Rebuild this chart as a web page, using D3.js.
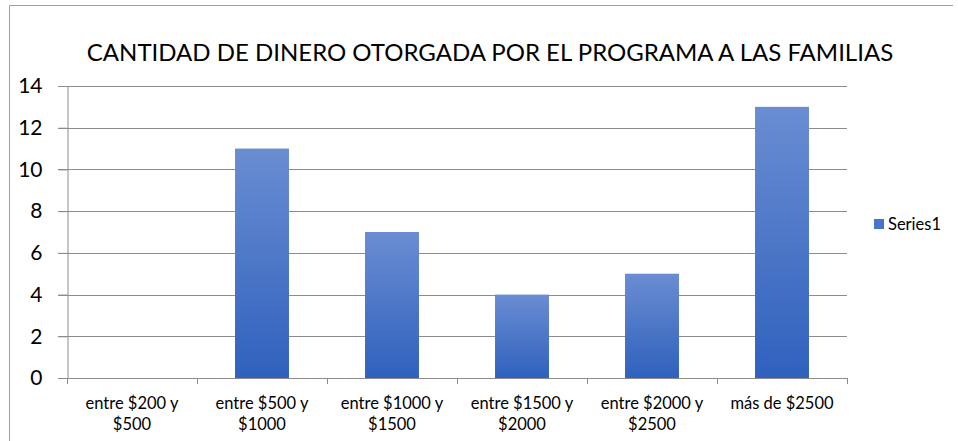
<!DOCTYPE html>
<html>
<head>
<meta charset="utf-8">
<script src="https://cdn.jsdelivr.net/npm/d3@7"></script>
<style>
  body { margin: 0; background: #fff; }
  svg { display: block; font-family: Lato, "Open Sans", sans-serif; }
</style>
</head>
<body>
<div id="chart"></div>
<script>
// Data
const categories = [
    ["entre $200 y", "$500"],
    ["entre $500 y", "$1000"],
    ["entre $1000 y", "$1500"],
    ["entre $1500 y", "$2000"],
    ["entre $2000 y", "$2500"],
    ["más de $2500"]
];
const values = [0, 11, 7, 4, 5, 13];
const yTicks = [0, 2, 4, 6, 8, 10, 12, 14];
const seriesName = "Series1";
const title = "CANTIDAD DE DINERO OTORGADA POR EL PROGRAMA A LAS FAMILIAS";

const width = 958, height = 441;
const plot = { left: 67, right: 847, top: 86, bottom: 378 };

const svg = d3.select("#chart").append("svg")
    .attr("width", width)
    .attr("height", height);

// gradient for bars
const grad = svg.append("defs").append("linearGradient")
    .attr("id", "barGrad")
    .attr("x1", 0).attr("y1", 0).attr("x2", 0).attr("y2", 1);
grad.append("stop").attr("offset", "0%").attr("stop-color", "#6a8dd2");
grad.append("stop").attr("offset", "100%").attr("stop-color", "#2f61bd");

// chart frame (left + top edges visible)
svg.append("path")
    .attr("d", `M9.5,441 V5.5 H953`)
    .attr("fill", "none")
    .attr("stroke", "#a0a0a0")
    .attr("stroke-width", 1);

// title
svg.append("text")
    .attr("x", 490)
    .attr("y", 61)
    .attr("text-anchor", "middle")
    .attr("font-size", 24)
    .attr("fill", "#000")
    .text(title);

const x = d3.scaleBand()
    .domain(d3.range(categories.length))
    .range([plot.left, plot.right])
    .paddingInner(0.585)
    .paddingOuter(0.2925);

const y = d3.scaleLinear()
    .domain([0, 14])
    .range([plot.bottom, plot.top]);

// gridlines
svg.append("g")
    .selectAll("line")
    .data(yTicks.filter(d => d > 0))
    .enter().append("line")
    .attr("x1", plot.left - 9).attr("x2", plot.right)
    .attr("y1", d => Math.round(y(d)) + 0.5)
    .attr("y2", d => Math.round(y(d)) + 0.5)
    .attr("stroke", "#8c8c8c");

// y axis
const yAxis = svg.append("g")
    .attr("transform", `translate(${plot.left + 0.5},0)`)
    .call(d3.axisLeft(y).tickValues(yTicks).tickSize(9).tickPadding(16).tickFormat(d3.format("d")));
yAxis.select(".domain").attr("stroke", "#8c8c8c");
yAxis.selectAll(".tick line").attr("stroke", "#8c8c8c");
yAxis.selectAll("text").attr("font-size", 21).attr("fill", "#000")
    .attr("font-family", "Lato, 'Open Sans', sans-serif");

// bars
svg.append("g")
    .selectAll("rect")
    .data(values)
    .enter().append("rect")
    .attr("x", (d, i) => x(i))
    .attr("width", x.bandwidth())
    .attr("y", d => y(d))
    .attr("height", d => y(0) - y(d))
    .attr("fill", "url(#barGrad)");

// x axis line and ticks at category boundaries
const step = x.step();
const xAxis = svg.append("g");
xAxis.append("line")
    .attr("x1", plot.left - 9).attr("x2", plot.right)
    .attr("y1", plot.bottom + 0.5).attr("y2", plot.bottom + 0.5)
    .attr("stroke", "#8c8c8c");
xAxis.selectAll(".xt")
    .data(d3.range(categories.length + 1))
    .enter().append("line")
    .attr("x1", i => Math.round(plot.left + i * step) + 0.5)
    .attr("x2", i => Math.round(plot.left + i * step) + 0.5)
    .attr("y1", plot.bottom)
    .attr("y2", plot.bottom + 6)
    .attr("stroke", "#8c8c8c");

// category labels
const labels = xAxis.selectAll(".lbl")
    .data(categories)
    .enter().append("text")
    .attr("text-anchor", "middle")
    .attr("font-size", 16.5)
    .attr("fill", "#000");
labels.each(function (lines, i) {
    const cx = x(i) + x.bandwidth() / 2;
    d3.select(this).selectAll("tspan")
        .data(lines)
        .enter().append("tspan")
        .attr("x", cx)
        .attr("y", (d, j) => 409 + j * 21)
        .text(d => d);
});

// legend
svg.append("rect")
    .attr("x", 874).attr("y", 219)
    .attr("width", 10).attr("height", 10)
    .attr("fill", "#4a74c9");
svg.append("text")
    .attr("x", 888).attr("y", 230)
    .attr("font-size", 16.5)
    .attr("fill", "#000")
    .text(seriesName);
</script>
</body>
</html>
